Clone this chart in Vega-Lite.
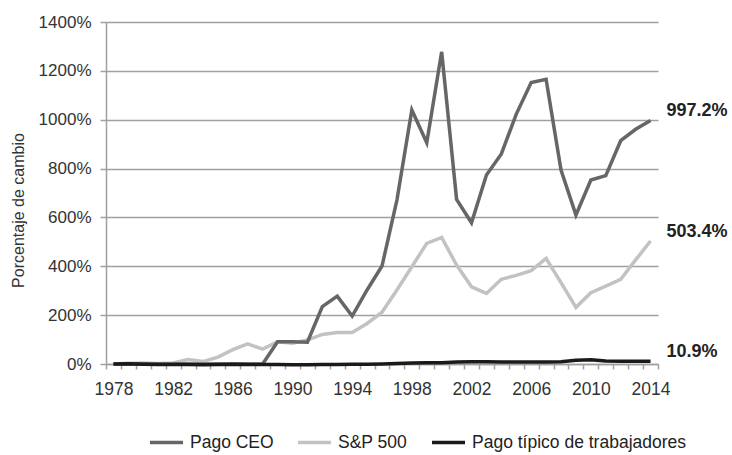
{
  "$schema": "https://vega.github.io/schema/vega-lite/v6.json",
  "autosize": "none",
  "width": 552,
  "height": 342,
  "padding": {"left": 106, "top": 22, "right": 74, "bottom": 91},
  "background": "white",
  "config": {
    "font": "Liberation Sans",
    "view": {"stroke": null}
  },
  "datasets": {
    "series": [
      {"year": 1978, "serie": "S&P 500", "value": 0},
      {"year": 1979, "serie": "S&P 500", "value": 3},
      {"year": 1980, "serie": "S&P 500", "value": 4},
      {"year": 1981, "serie": "S&P 500", "value": 2},
      {"year": 1982, "serie": "S&P 500", "value": 4},
      {"year": 1983, "serie": "S&P 500", "value": 18},
      {"year": 1984, "serie": "S&P 500", "value": 10},
      {"year": 1985, "serie": "S&P 500", "value": 28},
      {"year": 1986, "serie": "S&P 500", "value": 59},
      {"year": 1987, "serie": "S&P 500", "value": 82},
      {"year": 1988, "serie": "S&P 500", "value": 61},
      {"year": 1989, "serie": "S&P 500", "value": 91},
      {"year": 1990, "serie": "S&P 500", "value": 85},
      {"year": 1991, "serie": "S&P 500", "value": 98},
      {"year": 1992, "serie": "S&P 500", "value": 121},
      {"year": 1993, "serie": "S&P 500", "value": 129},
      {"year": 1994, "serie": "S&P 500", "value": 129},
      {"year": 1995, "serie": "S&P 500", "value": 166},
      {"year": 1996, "serie": "S&P 500", "value": 212},
      {"year": 1997, "serie": "S&P 500", "value": 303},
      {"year": 1998, "serie": "S&P 500", "value": 398},
      {"year": 1999, "serie": "S&P 500", "value": 494},
      {"year": 2000, "serie": "S&P 500", "value": 518},
      {"year": 2001, "serie": "S&P 500", "value": 405},
      {"year": 2002, "serie": "S&P 500", "value": 316},
      {"year": 2003, "serie": "S&P 500", "value": 289},
      {"year": 2004, "serie": "S&P 500", "value": 347},
      {"year": 2005, "serie": "S&P 500", "value": 363},
      {"year": 2006, "serie": "S&P 500", "value": 382},
      {"year": 2007, "serie": "S&P 500", "value": 432},
      {"year": 2008, "serie": "S&P 500", "value": 333},
      {"year": 2009, "serie": "S&P 500", "value": 232},
      {"year": 2010, "serie": "S&P 500", "value": 292},
      {"year": 2011, "serie": "S&P 500", "value": 319},
      {"year": 2012, "serie": "S&P 500", "value": 347},
      {"year": 2013, "serie": "S&P 500", "value": 426},
      {"year": 2014, "serie": "S&P 500", "value": 503.4},
      {"year": 1978, "serie": "Pago CEO", "value": 0},
      {"year": 1979, "serie": "Pago CEO", "value": 0},
      {"year": 1980, "serie": "Pago CEO", "value": 0},
      {"year": 1981, "serie": "Pago CEO", "value": 0},
      {"year": 1982, "serie": "Pago CEO", "value": 0},
      {"year": 1983, "serie": "Pago CEO", "value": 0},
      {"year": 1984, "serie": "Pago CEO", "value": 0},
      {"year": 1985, "serie": "Pago CEO", "value": 0},
      {"year": 1986, "serie": "Pago CEO", "value": 0},
      {"year": 1987, "serie": "Pago CEO", "value": 0},
      {"year": 1988, "serie": "Pago CEO", "value": 0},
      {"year": 1989, "serie": "Pago CEO", "value": 91},
      {"year": 1990, "serie": "Pago CEO", "value": 91},
      {"year": 1991, "serie": "Pago CEO", "value": 89},
      {"year": 1992, "serie": "Pago CEO", "value": 235},
      {"year": 1993, "serie": "Pago CEO", "value": 278},
      {"year": 1994, "serie": "Pago CEO", "value": 196},
      {"year": 1995, "serie": "Pago CEO", "value": 303},
      {"year": 1996, "serie": "Pago CEO", "value": 401},
      {"year": 1997, "serie": "Pago CEO", "value": 671},
      {"year": 1998, "serie": "Pago CEO", "value": 1040},
      {"year": 1999, "serie": "Pago CEO", "value": 906},
      {"year": 2000, "serie": "Pago CEO", "value": 1278},
      {"year": 2001, "serie": "Pago CEO", "value": 674},
      {"year": 2002, "serie": "Pago CEO", "value": 578},
      {"year": 2003, "serie": "Pago CEO", "value": 774},
      {"year": 2004, "serie": "Pago CEO", "value": 860},
      {"year": 2005, "serie": "Pago CEO", "value": 1023},
      {"year": 2006, "serie": "Pago CEO", "value": 1152},
      {"year": 2007, "serie": "Pago CEO", "value": 1165},
      {"year": 2008, "serie": "Pago CEO", "value": 794},
      {"year": 2009, "serie": "Pago CEO", "value": 610},
      {"year": 2010, "serie": "Pago CEO", "value": 753},
      {"year": 2011, "serie": "Pago CEO", "value": 771},
      {"year": 2012, "serie": "Pago CEO", "value": 914},
      {"year": 2013, "serie": "Pago CEO", "value": 961},
      {"year": 2014, "serie": "Pago CEO", "value": 997.2},
      {"year": 1978, "serie": "Pago típico de trabajadores", "value": 0},
      {"year": 1979, "serie": "Pago típico de trabajadores", "value": 1},
      {"year": 1980, "serie": "Pago típico de trabajadores", "value": -1},
      {"year": 1981, "serie": "Pago típico de trabajadores", "value": -2},
      {"year": 1982, "serie": "Pago típico de trabajadores", "value": -2},
      {"year": 1983, "serie": "Pago típico de trabajadores", "value": -2},
      {"year": 1984, "serie": "Pago típico de trabajadores", "value": -3},
      {"year": 1985, "serie": "Pago típico de trabajadores", "value": -2},
      {"year": 1986, "serie": "Pago típico de trabajadores", "value": -1},
      {"year": 1987, "serie": "Pago típico de trabajadores", "value": -2},
      {"year": 1988, "serie": "Pago típico de trabajadores", "value": -2},
      {"year": 1989, "serie": "Pago típico de trabajadores", "value": -2},
      {"year": 1990, "serie": "Pago típico de trabajadores", "value": -3},
      {"year": 1991, "serie": "Pago típico de trabajadores", "value": -3},
      {"year": 1992, "serie": "Pago típico de trabajadores", "value": -2},
      {"year": 1993, "serie": "Pago típico de trabajadores", "value": -2},
      {"year": 1994, "serie": "Pago típico de trabajadores", "value": -1},
      {"year": 1995, "serie": "Pago típico de trabajadores", "value": -1},
      {"year": 1996, "serie": "Pago típico de trabajadores", "value": 0},
      {"year": 1997, "serie": "Pago típico de trabajadores", "value": 2},
      {"year": 1998, "serie": "Pago típico de trabajadores", "value": 4},
      {"year": 1999, "serie": "Pago típico de trabajadores", "value": 5},
      {"year": 2000, "serie": "Pago típico de trabajadores", "value": 5},
      {"year": 2001, "serie": "Pago típico de trabajadores", "value": 8},
      {"year": 2002, "serie": "Pago típico de trabajadores", "value": 9},
      {"year": 2003, "serie": "Pago típico de trabajadores", "value": 9},
      {"year": 2004, "serie": "Pago típico de trabajadores", "value": 8},
      {"year": 2005, "serie": "Pago típico de trabajadores", "value": 8},
      {"year": 2006, "serie": "Pago típico de trabajadores", "value": 8},
      {"year": 2007, "serie": "Pago típico de trabajadores", "value": 8},
      {"year": 2008, "serie": "Pago típico de trabajadores", "value": 9},
      {"year": 2009, "serie": "Pago típico de trabajadores", "value": 15},
      {"year": 2010, "serie": "Pago típico de trabajadores", "value": 17},
      {"year": 2011, "serie": "Pago típico de trabajadores", "value": 12},
      {"year": 2012, "serie": "Pago típico de trabajadores", "value": 11},
      {"year": 2013, "serie": "Pago típico de trabajadores", "value": 11},
      {"year": 2014, "serie": "Pago típico de trabajadores", "value": 10.9}
    ],
    "labels": [
      {"year": 2014, "value": 997.2, "label": "997.2%"},
      {"year": 2014, "value": 503.4, "label": "503.4%"},
      {"year": 2014, "value": 10.9, "label": "10.9%"}
    ]
  },
  "layer": [
    {
      "data": {"name": "series"},
      "mark": {"type": "line", "strokeWidth": 3.5, "strokeJoin": "miter", "clip": false},
      "encoding": {
        "x": {
          "field": "year", "type": "quantitative",
          "scale": {"domain": [1977.5, 2014.5], "nice": false, "zero": false},
          "axis": {
            "orient": "bottom",
            "values": [1978, 1982, 1986, 1990, 1994, 1998, 2002, 2006, 2010, 2014],
            "format": "d",
            "title": null,
            "ticks": false,
            "grid": false,
            "domain": false,
            "labelFontSize": 17.5,
            "labelColor": "#333333",
            "labelPadding": 16,
            "labelFlush": false
          }
        },
        "y": {
          "field": "value", "type": "quantitative",
          "scale": {"domain": [0, 1400], "nice": false},
          "axis": {
            "values": [0, 200, 400, 600, 800, 1000, 1200, 1400],
            "labelExpr": "datum.value + '%'",
            "title": "Porcentaje de cambio",
            "titleFontSize": 16,
            "titleFontWeight": "normal",
            "titleColor": "#333333",
            "titleAngle": -90,
            "titleX": -88,
            "titleY": 188,
            "titleAlign": "center",
            "titleBaseline": "middle",
            "labelFontSize": 17,
            "labelColor": "#333333",
            "labelPadding": 9,
            "tickSize": 6,
            "tickColor": "#a0a0a0",
            "tickWidth": 1.5,
            "domainColor": "#a0a0a0",
            "domainWidth": 1.5,
            "gridColor": "#a0a0a0",
            "gridWidth": 1.5,
            "grid": true
          }
        },
        "color": {
          "field": "serie", "type": "nominal",
          "scale": {
            "domain": ["Pago CEO", "S&P 500", "Pago típico de trabajadores"],
            "range": ["#666666", "#c2c2c2", "#1a1a1a"]
          },
          "legend": {
            "title": null,
            "orient": "none",
            "direction": "horizontal",
            "legendX": 42,
            "legendY": 402,
            "symbolType": "stroke",
            "symbolSize": 1089,
            "symbolStrokeWidth": 3.5,
            "labelFontSize": 17.5,
            "labelColor": "#222222",
            "labelLimit": 400,
            "labelOffset": 5,
            "columnPadding": 17
          }
        },
        "order": {"field": "year", "type": "quantitative"}
      }
    },
    {
      "data": {"name": "labels"},
      "mark": {"type": "text", "align": "left", "baseline": "middle", "dx": 16, "dy": -9, "fontSize": 18, "fontWeight": "bold", "color": "#222222"},
      "encoding": {
        "x": {
          "field": "year", "type": "quantitative",
          "axis": {
            "orient": "bottom",
            "values": [1977.5, 1978.5, 1979.5, 1980.5, 1981.5, 1982.5, 1983.5, 1984.5, 1985.5, 1986.5, 1987.5, 1988.5, 1989.5, 1990.5, 1991.5, 1992.5, 1993.5, 1994.5, 1995.5, 1996.5, 1997.5, 1998.5, 1999.5, 2000.5, 2001.5, 2002.5, 2003.5, 2004.5, 2005.5, 2006.5, 2007.5, 2008.5, 2009.5, 2010.5, 2011.5, 2012.5, 2013.5, 2014.5],
            "labels": false,
            "title": null,
            "grid": false,
            "tickSize": 5,
            "tickColor": "#a0a0a0",
            "tickWidth": 1.5,
            "domainColor": "#a0a0a0",
            "domainWidth": 1.5
          }
        },
        "y": {"field": "value", "type": "quantitative"},
        "text": {"field": "label", "type": "nominal"}
      }
    }
  ],
  "resolve": {"axis": {"x": "independent"}}
}
